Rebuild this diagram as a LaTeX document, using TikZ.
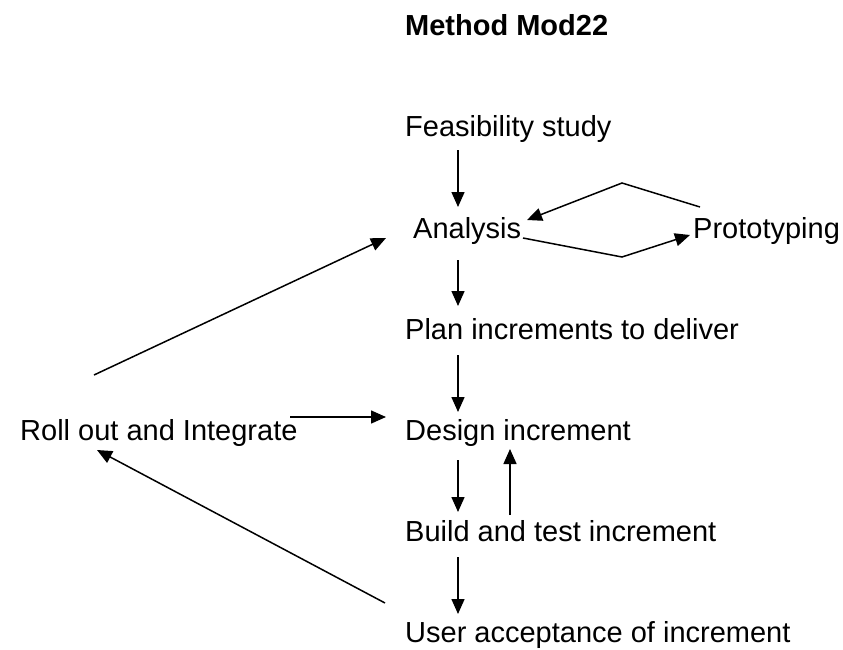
\documentclass[tikz,border=0pt]{standalone}
\usepackage{fontspec}
\setmainfont{Liberation Sans}
\usetikzlibrary{arrows.meta}
\begin{document}
\begin{tikzpicture}[x=1pt,y=-1pt,
  lbl/.style={anchor=base west,inner sep=0pt,font=\fontsize{29}{35}\selectfont},
  conn/.style={line width=1.5pt,-{Triangle[length=15pt,width=13pt]}}]
\useasboundingbox (0,0) rectangle (843,650);
\node[lbl,font=\fontsize{29}{35}\selectfont\bfseries] (title) at (405,36) {Method Mod22};
\node[lbl] (feas) at (405,137) {Feasibility study};
\node[lbl] (ana) at (413,238) {Analysis};
\node[lbl] (proto) at (693,238) {Prototyping};
\node[lbl] (plan) at (405,339) {Plan increments to deliver};
\node[lbl] (roll) at (20,440) {Roll out and Integrate};
\node[lbl] (des) at (405,440) {Design increment};
\node[lbl] (build) at (405,541) {Build and test increment};
\node[lbl] (user) at (405,642) {User acceptance of increment};
% connector end points
\coordinate (f1) at (458,150); \coordinate (a1) at (458,207);
\coordinate (a2) at (458,260); \coordinate (p1) at (458,306);
\coordinate (p2) at (458,355); \coordinate (d1) at (458,412);
\coordinate (d2) at (458,460); \coordinate (b1) at (458,512);
\coordinate (b2) at (510,515); \coordinate (d3) at (510,449);
\coordinate (b3) at (458,557); \coordinate (u1) at (458,614);
\coordinate (pr1) at (700,207); \coordinate (pk1) at (622,183); \coordinate (a3) at (527,220);
\coordinate (a4) at (523,238); \coordinate (pk2) at (622,257); \coordinate (pr2) at (690,235);
\coordinate (r1) at (94,375); \coordinate (a5) at (386,238);
\coordinate (r2) at (290,417); \coordinate (d4) at (386,417);
\coordinate (u2) at (385,603); \coordinate (r3) at (97,450);
\draw[conn] (f1) -- (a1);
\draw[conn] (a2) -- (p1);
\draw[conn] (p2) -- (d1);
\draw[conn] (d2) -- (b1);
\draw[conn] (b2) -- (d3);
\draw[conn] (b3) -- (u1);
\draw[conn] (pr1) -- (pk1) -- (a3);
\draw[conn] (a4) -- (pk2) -- (pr2);
\draw[conn] (r1) -- (a5);
\draw[conn] (r2) -- (d4);
\draw[conn] (u2) -- (r3);
\end{tikzpicture}
\end{document}
